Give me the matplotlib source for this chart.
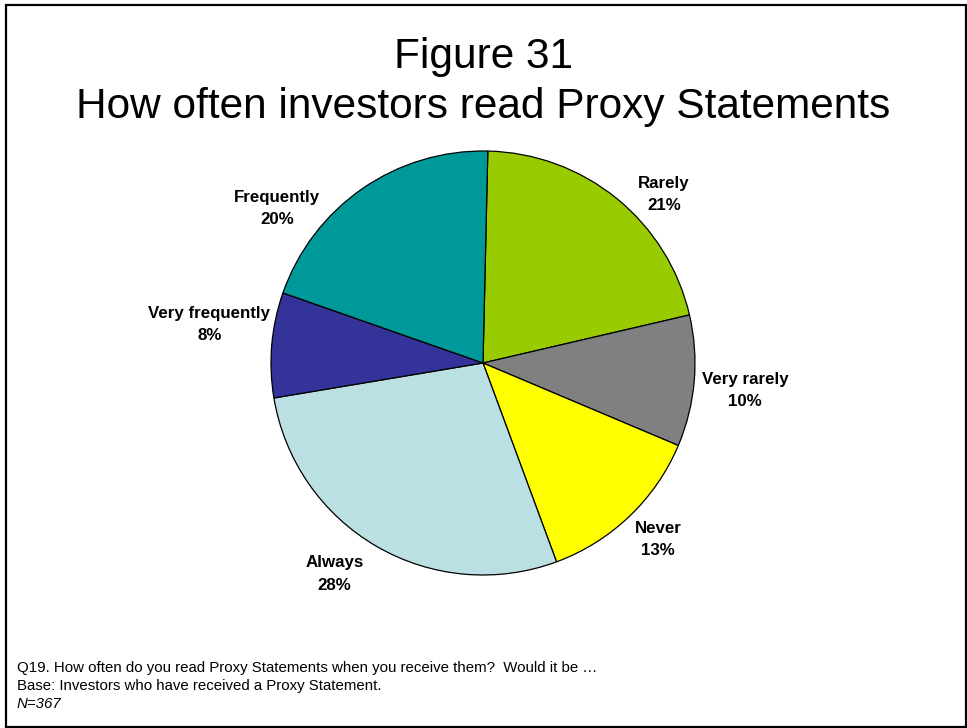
import matplotlib
matplotlib.use("Agg")
import matplotlib.pyplot as plt
from matplotlib.patches import Rectangle

plt.rcParams['font.family'] = ['Liberation Sans', 'DejaVu Sans']

# Survey answers, drawn clockwise from the top
categories = ["Rarely", "Very rarely", "Never", "Always", "Very frequently", "Frequently"]
shares = [21, 10, 13, 28, 8, 20]
colors = ["#99CC00", "#808080", "#FFFF00", "#BBE0E3", "#333399", "#009999"]

# Label anchor points in pie-radius units (x, y relative to the centre)
label_xy = [(0.854, 0.793), (1.235, -0.131), (0.826, -0.831),
            (-0.700, -0.995), (-1.291, 0.183), (-0.972, 0.728)]

title_lines = ["Figure 31", "How often investors read Proxy Statements"]
notes = ["Q19. How often do you read Proxy Statements when you receive them?  Would it be \u2026",
         "Base: Investors who have received a Proxy Statement."]
base_n = "N=367"

W, H = 967, 728
fig = plt.figure(figsize=(W / 100, H / 100), dpi=100)

# Outer frame
fig.patches.append(Rectangle((6 / W, 1 - 727 / H), 960 / W, 722 / H,
                             transform=fig.transFigure, fill=False,
                             edgecolor="black", linewidth=1.6))

# Pie axes: centre at (483, 363) px, radius 212 px
cx, cy, r = 483, 363, 212
half = 300
ax = fig.add_axes([(cx - half) / W, 1 - (cy + half) / H, 2 * half / W, 2 * half / H])
ax.pie(shares, colors=colors, startangle=88.7, counterclock=False,
       wedgeprops=dict(edgecolor="black", linewidth=0.9))
lim = half / r
ax.set_xlim(-lim, lim)
ax.set_ylim(-lim, lim)
ax.axis("off")

for name, val, (x, y) in zip(categories, shares, label_xy):
    ax.text(x, y, f"{name}\n{val}%", ha="center", va="center",
            fontsize=12.2, fontweight="bold", linespacing=1.6)

fig.text(0.5, 1 - 57 / H, title_lines[0], ha="center", va="center", fontsize=30.5)
fig.text(0.5, 1 - 107 / H, title_lines[1], ha="center", va="center", fontsize=30.5)

fig.text(17 / W, 1 - 668 / H, notes[0], ha="left", va="center", fontsize=10.8)
fig.text(17 / W, 1 - 686 / H, notes[1], ha="left", va="center", fontsize=10.8)
fig.text(17 / W, 1 - 704 / H, base_n, ha="left", va="center", fontsize=10.8, style="italic")

fig.savefig("out.png", dpi=100)
